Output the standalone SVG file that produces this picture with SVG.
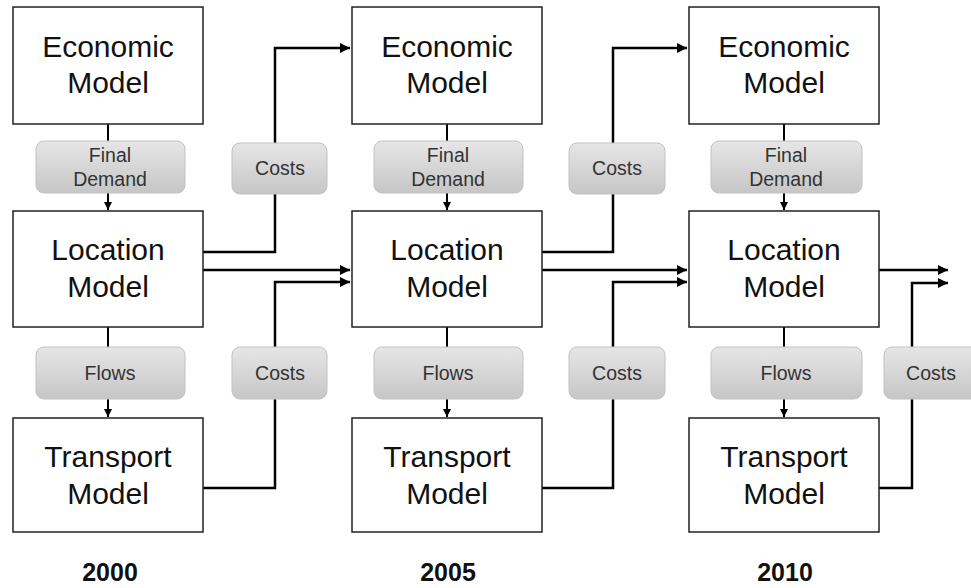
<svg xmlns="http://www.w3.org/2000/svg" width="971" height="588" viewBox="0 0 971 588">
<defs>
<linearGradient id="g" x1="0" y1="0" x2="0" y2="1">
<stop offset="0" stop-color="#e6e6e6"/>
<stop offset="1" stop-color="#c6c6c6"/>
</linearGradient>
<marker id="ah" viewBox="0 0 10 10" refX="10" refY="5" markerWidth="4" markerHeight="4" markerUnits="strokeWidth" orient="auto">
<path d="M0,0 L10,5 L0,10 z" fill="#000"/>
</marker>
<marker id="as" viewBox="0 0 10 10" refX="10" refY="5" markerWidth="4" markerHeight="4.4" markerUnits="strokeWidth" orient="auto">
<path d="M0,0 L10,5 L0,10 z" fill="#000"/>
</marker>
</defs>
<style>
.box{fill:#fff;stroke:#222;stroke-width:1.5}
.lbl{fill:url(#g);stroke:#c2c2c2;stroke-width:1}
.bt{font-family:"Liberation Sans",Arial,sans-serif;font-size:30px;fill:#111;text-anchor:middle}
.lt{font-family:"Liberation Sans",Arial,sans-serif;font-size:19.5px;fill:#333;text-anchor:middle}
.yr{font-family:"Liberation Sans",Arial,sans-serif;font-size:25px;font-weight:bold;fill:#111;text-anchor:middle}
.c{fill:none;stroke:#000;stroke-width:2.5}
.v{fill:none;stroke:#000;stroke-width:2}
</style>

<g id="connectors">
<path class="v" d="M108,124 V210" marker-end="url(#as)"/>
<path class="v" d="M108,327 V417" marker-end="url(#as)"/>
<path class="v" d="M447,124 V210" marker-end="url(#as)"/>
<path class="v" d="M447,327 V417" marker-end="url(#as)"/>
<path class="v" d="M784,124 V210" marker-end="url(#as)"/>
<path class="v" d="M784,327 V417" marker-end="url(#as)"/>
<path class="c" d="M203,252 H275 V48 H350" marker-end="url(#ah)"/>
<path class="c" d="M203,270 H350" marker-end="url(#ah)"/>
<path class="c" d="M203,488 H275 V282 H350" marker-end="url(#ah)"/>
<path class="c" d="M542,252 H613 V48 H687" marker-end="url(#ah)"/>
<path class="c" d="M542,270 H687" marker-end="url(#ah)"/>
<path class="c" d="M542,488 H613 V282 H687" marker-end="url(#ah)"/>
<path class="c" d="M879,270 H948" marker-end="url(#ah)"/>
<path class="c" d="M879,488 H912 V283 H948" marker-end="url(#ah)"/>
</g>

<g id="labels">
<g id="fd1"><rect class="lbl" x="36" y="141" width="149" height="52" rx="8"/><text class="lt" x="110" y="162">Final</text><text class="lt" x="110" y="186">Demand</text></g>
<g id="fd2"><rect class="lbl" x="374" y="141" width="149" height="52" rx="8"/><text class="lt" x="448" y="162">Final</text><text class="lt" x="448" y="186">Demand</text></g>
<g id="fd3"><rect class="lbl" x="711" y="141" width="151" height="52" rx="8"/><text class="lt" x="786" y="162">Final</text><text class="lt" x="786" y="186">Demand</text></g>
<g id="fl1"><rect class="lbl" x="36" y="347" width="149" height="52" rx="8"/><text class="lt" x="110" y="380">Flows</text></g>
<g id="fl2"><rect class="lbl" x="374" y="347" width="149" height="52" rx="8"/><text class="lt" x="448" y="380">Flows</text></g>
<g id="fl3"><rect class="lbl" x="711" y="347" width="151" height="52" rx="8"/><text class="lt" x="786" y="380">Flows</text></g>
<g id="ct1"><rect class="lbl" x="232" y="143" width="95" height="51" rx="8"/><text class="lt" x="280" y="175">Costs</text></g>
<g id="cb1"><rect class="lbl" x="232" y="347" width="95" height="52" rx="8"/><text class="lt" x="280" y="380">Costs</text></g>
<g id="ct2"><rect class="lbl" x="569" y="143" width="96" height="51" rx="8"/><text class="lt" x="617" y="175">Costs</text></g>
<g id="cb2"><rect class="lbl" x="569" y="347" width="96" height="52" rx="8"/><text class="lt" x="617" y="380">Costs</text></g>
<g id="cb3"><rect class="lbl" x="884" y="347" width="96" height="52" rx="8"/><text class="lt" x="931" y="380">Costs</text></g>
</g>

<g id="econ2000"><rect class="box" x="13" y="7" width="190" height="117"/><text class="bt" x="108" y="57">Economic</text><text class="bt" x="108" y="93">Model</text></g>
<g id="loc2000"><rect class="box" x="13" y="211" width="190" height="116"/><text class="bt" x="108" y="260">Location</text><text class="bt" x="108" y="297">Model</text></g>
<g id="trans2000"><rect class="box" x="13" y="418" width="190" height="114"/><text class="bt" x="108" y="467">Transport</text><text class="bt" x="108" y="504">Model</text></g>

<g id="econ2005"><rect class="box" x="352" y="7" width="190" height="117"/><text class="bt" x="447" y="57">Economic</text><text class="bt" x="447" y="93">Model</text></g>
<g id="loc2005"><rect class="box" x="352" y="211" width="190" height="116"/><text class="bt" x="447" y="260">Location</text><text class="bt" x="447" y="297">Model</text></g>
<g id="trans2005"><rect class="box" x="352" y="418" width="190" height="114"/><text class="bt" x="447" y="467">Transport</text><text class="bt" x="447" y="504">Model</text></g>

<g id="econ2010"><rect class="box" x="689" y="7" width="190" height="117"/><text class="bt" x="784" y="57">Economic</text><text class="bt" x="784" y="93">Model</text></g>
<g id="loc2010"><rect class="box" x="689" y="211" width="190" height="116"/><text class="bt" x="784" y="260">Location</text><text class="bt" x="784" y="297">Model</text></g>
<g id="trans2010"><rect class="box" x="689" y="418" width="190" height="114"/><text class="bt" x="784" y="467">Transport</text><text class="bt" x="784" y="504">Model</text></g>

<g id="years">
<text class="yr" x="110" y="581">2000</text>
<text class="yr" x="448" y="581">2005</text>
<text class="yr" x="785" y="581">2010</text>
</g>
</svg>
